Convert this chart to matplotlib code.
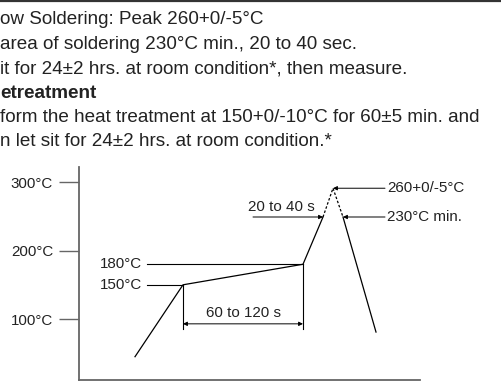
import matplotlib.pyplot as plt

plt.rcParams['font.family'] = ['Liberation Sans', 'DejaVu Sans']

# notes above the chart
note_lines = [
    "ow Soldering: Peak 260+0/-5°C",
    "area of soldering 230°C min., 20 to 40 sec.",
    "it for 24±2 hrs. at room condition*, then measure.",
    "etreatment",
    "form the heat treatment at 150+0/-10°C for 60±5 min. and",
    "n let sit for 24±2 hrs. at room condition.*",
]
bold_lines = [3]

# y axis ticks
tick_temps = [100, 200, 300]
tick_labels = ["100°C", "200°C", "300°C"]

# reflow profile (time in arbitrary units, temperature on the drawn scale)
ramp_t = [56, 104, 224, 244]
ramp_T = [45, 150, 180, 249]
peak_t = [244, 254, 264]
peak_T = [249, 291, 249]
cool_t = [264, 297]
cool_T = [249, 81]

preheat_start, preheat_end = 104, 224
preheat_T = [150, 180]
preheat_labels = ["150°C", "180°C"]
solder_level = 249
peak_level = 291

fs = 10.9

fig = plt.figure(figsize=(5.01, 3.82), dpi=100)

# header rule and text
fig.add_artist(plt.Line2D([0, 1], [0.998, 0.998], color='#333333', lw=1.6))
y0 = 1 - 20 / 382
for i, line in enumerate(note_lines):
    fig.text(0.0, y0 - i * 24.4 / 382, line, fontsize=13.6, va='center', ha='left',
             fontweight='bold' if i in bold_lines else 'normal', color='#222222')

ax = fig.add_axes([79 / 501, 2 / 382, (420 - 79) / 501, (380 - 167) / 382])
ax.set_xlim(0, 341)
ax.set_ylim(11, 322)
for s in ['top', 'right']:
    ax.spines[s].set_visible(False)
for s in ['left', 'bottom']:
    ax.spines[s].set_color('#666666')
    ax.spines[s].set_linewidth(1.3)
ax.set_xticks([])
ax.set_yticks(tick_temps)
ax.set_yticklabels(tick_labels)
ax.tick_params(axis='y', direction='out', length=14.4, width=1.0, color='#666666',
               pad=4.3, labelsize=fs, labelcolor='#222222')

# profile curve
ax.plot(ramp_t, ramp_T, color='black', lw=0.9)
ax.plot(peak_t, peak_T, color='black', lw=0.9, ls=(0, (2, 1.5)))
ax.plot(cool_t, cool_T, color='black', lw=0.9)

# preheat levels
for T, lab, t_end in zip(preheat_T, preheat_labels, [preheat_start, preheat_end]):
    ax.plot([68, t_end], [T, T], color='black', lw=0.8)
    ax.text(63, T, lab, ha='right', va='center', fontsize=fs, color='#222222')

# preheat duration
ax.plot([preheat_start, preheat_start], [150, 85], color='black', lw=0.8)
ax.plot([preheat_end, preheat_end], [180, 85], color='black', lw=0.8)
arrow = dict(arrowstyle='<|-|>', color='black', lw=0.7, mutation_scale=6, shrinkA=0, shrinkB=0)
ax.annotate('', xy=(preheat_start, 93), xytext=(preheat_end, 93), arrowprops=arrow)
ax.text((preheat_start + preheat_end) / 2, 99, "60 to 120 s", ha='center', va='bottom',
        fontsize=fs, color='#222222')

# soldering time and peak
one_way = dict(arrowstyle='-|>', color='black', lw=0.7, mutation_scale=6, shrinkA=0, shrinkB=0)
ax.annotate('', xy=(244, solder_level), xytext=(174, solder_level), arrowprops=one_way)
ax.text(202, solder_level + 5, "20 to 40 s", ha='center', va='bottom', fontsize=fs, color='#222222')
ax.annotate('', xy=(264, solder_level), xytext=(306, solder_level), arrowprops=one_way)
ax.annotate('', xy=(254, peak_level), xytext=(306, peak_level), arrowprops=one_way)
ax.text(308, solder_level, "230°C min.", ha='left', va='center', fontsize=fs, color='#222222')
ax.text(308, peak_level, "260+0/-5°C", ha='left', va='center', fontsize=fs, color='#222222')

fig.savefig('out.png', dpi=100)
